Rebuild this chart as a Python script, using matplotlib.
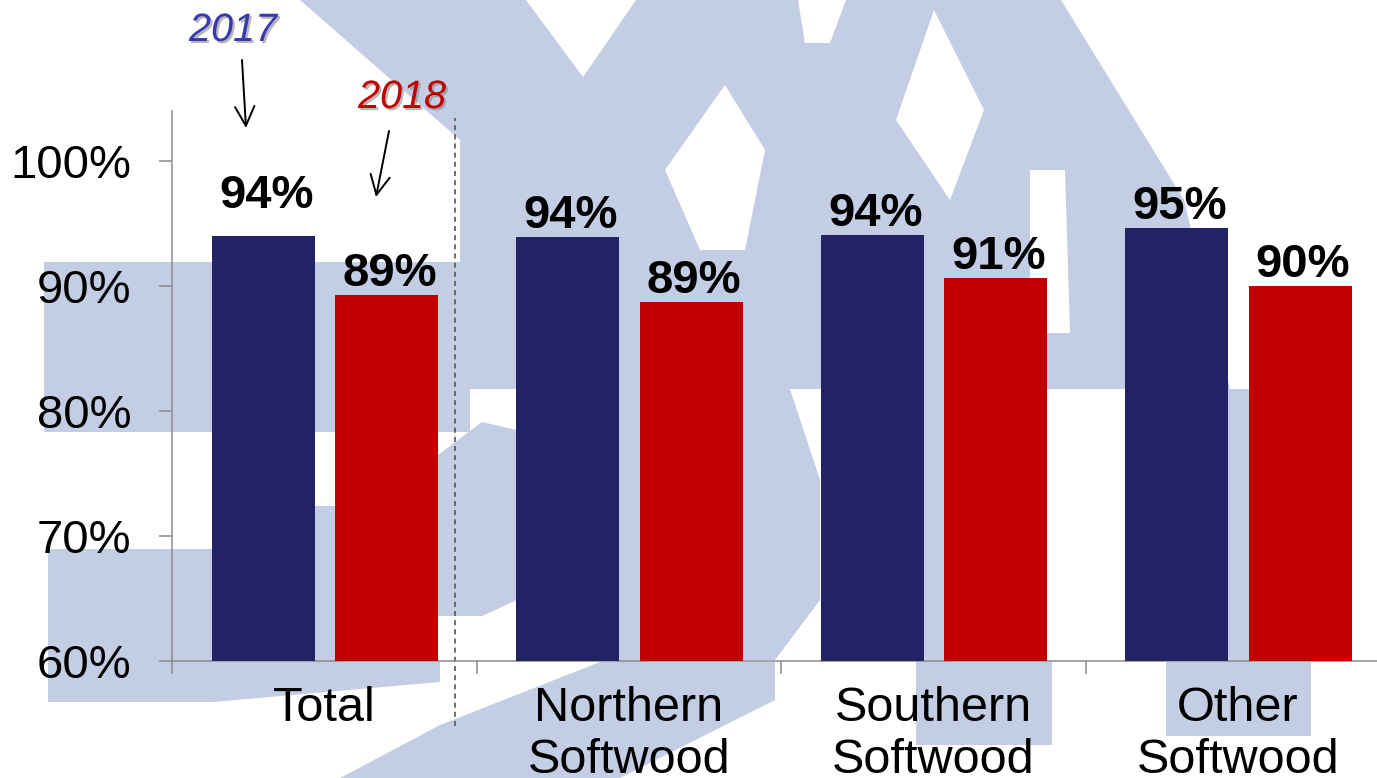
import matplotlib
matplotlib.use("Agg")
import matplotlib.pyplot as plt
import matplotlib.patheffects as pe
from matplotlib.patches import Polygon
import numpy as np

# datos del grafico
categories = ["Total", "Northern\nSoftwood", "Southern\nSoftwood", "Other\nSoftwood"]
years = ["2017", "2018"]
vals_2017 = [94.0, 93.9, 94.1, 94.6]
vals_2018 = [89.3, 88.7, 90.6, 90.0]
yticks = [60, 70, 80, 90, 100]

NAVY = "#222266"
RED = "#C00000"
WM = "#C3CDE3"
AXC = "#8a8a8a"

plt.rcParams["font.family"] = ["Liberation Sans", "DejaVu Sans"]

fig = plt.figure(figsize=(13.77, 7.78), dpi=100)

# marca de agua de fondo (en pixeles de la imagen)
bg = fig.add_axes([0, 0, 1, 1], zorder=-1)
bg.set_xlim(0, 1377)
bg.set_ylim(778, 0)
bg.axis("off")
wm_blue = [
    [(300, 0), (1061, 0), (1184, 200), (1230, 389), (460, 389), (460, 140)],
    [(44, 262), (470, 262), (470, 432), (44, 432)],
    [(48, 549), (213, 549), (213, 662), (440, 662), (440, 682), (213, 702), (48, 702)],
    [(438, 455), (482, 422), (517, 430), (517, 600), (482, 616), (438, 616)],
    [(340, 778), (620, 778), (775, 700), (775, 662), (600, 662), (440, 725)],
    [(743, 300), (790, 389), (820, 480), (820, 600), (775, 660), (743, 660)],
    [(916, 389), (950, 389), (950, 662), (916, 662)],
    [(916, 662), (1052, 662), (1052, 745), (916, 745)],
    [(1215, 389), (1252, 389), (1252, 662), (1222, 662)],
    [(1166, 662), (1311, 662), (1311, 736), (1166, 736)],
    [(615, 389), (645, 389), (645, 662), (615, 662)],
    [(310, 506), (340, 506), (340, 662), (310, 662)],
]
wm_white = [
    [(526, 0), (636, 0), (583, 77)],
    [(725, 85), (765, 150), (745, 250), (700, 250), (665, 170)],
    [(934, 10), (984, 110), (950, 200), (896, 120)],
    [(798, 0), (846, 0), (830, 43), (805, 43)],
    [(1030, 170), (1065, 170), (1070, 333), (1030, 333)],
]
for pts in wm_blue:
    bg.add_patch(Polygon(pts, closed=True, facecolor=WM, edgecolor="none"))
for pts in wm_white:
    bg.add_patch(Polygon(pts, closed=True, facecolor="white", edgecolor="none"))

ax = fig.add_axes([172 / 1377, 0.1508, 1218 / 1377, 0.7066])
ax.set_facecolor("none")

x = np.arange(len(categories))
w = 0.338
b1 = ax.bar(x - 0.2, np.array(vals_2017) - 60, w, bottom=60, color=NAVY, zorder=3)
b2 = ax.bar(x + 0.205, np.array(vals_2018) - 60, w, bottom=60, color=RED, zorder=3)

# etiquetas de valores
for i, (r, v) in enumerate(zip(b1, vals_2017)):
    off = 20 if i == 0 else 6.5
    ax.annotate(f"{round(v):.0f}%", (r.get_x() + r.get_width() / 2, v),
                xytext=(2, off), textcoords="offset points", ha="center",
                va="baseline", fontsize=34, fontweight="bold", zorder=4)
for r, v in zip(b2, vals_2018):
    ax.annotate(f"{round(v):.0f}%", (r.get_x() + r.get_width() / 2, v),
                xytext=(2, 6.5), textcoords="offset points", ha="center",
                va="baseline", fontsize=34, fontweight="bold", zorder=4)

ax.set_ylim(60, 104)
ax.set_xlim(-0.5, 3.5)
ax.set_yticks(yticks)
ax.set_yticklabels([f"{t}%" for t in yticks], fontsize=34)
ax.set_xticks(x)
ax.set_xticklabels(categories, fontsize=35, linespacing=1.2)
ax.set_xticks(np.arange(-0.5, 4.0, 1.0), minor=True)
ax.tick_params(axis="x", which="major", length=0, pad=18)
ax.tick_params(axis="x", which="minor", length=9.5, width=1.1, color=AXC, direction="out")
ax.tick_params(axis="y", length=9.5, width=1.1, color=AXC, pad=20)

for s in ["top", "right"]:
    ax.spines[s].set_visible(False)
for s in ["left", "bottom"]:
    ax.spines[s].set_color(AXC)
    ax.spines[s].set_linewidth(1.1)

# linea punteada separadora
ax.plot([0.43, 0.43], [54.8, 103.4], color="#555555", lw=1.2,
        ls=(0, (3, 2.5)), clip_on=False, zorder=2)

# leyenda con flechas
shadow = [pe.withSimplePatchShadow(offset=(1.5, -1.5), shadow_rgbFace="#888888", alpha=0.6)]
fig.text(233 / 1377, 1 - 30 / 778, years[0], fontsize=28.5, style="italic",
         color="#3a3ab0", ha="center", va="center", path_effects=shadow)
fig.text(402 / 1377, 1 - 97 / 778, years[1], fontsize=28.5, style="italic",
         color=RED, ha="center", va="center", path_effects=shadow)
arrow = dict(arrowstyle="->,head_length=0.7,head_width=0.35", color="black",
             lw=1.4, mutation_scale=20, shrinkA=0, shrinkB=0)
bg.annotate("", xy=(246, 128), xytext=(242, 60), arrowprops=arrow)
bg.annotate("", xy=(376, 197), xytext=(389, 131), arrowprops=arrow)

fig.savefig("out.png", dpi=100)
